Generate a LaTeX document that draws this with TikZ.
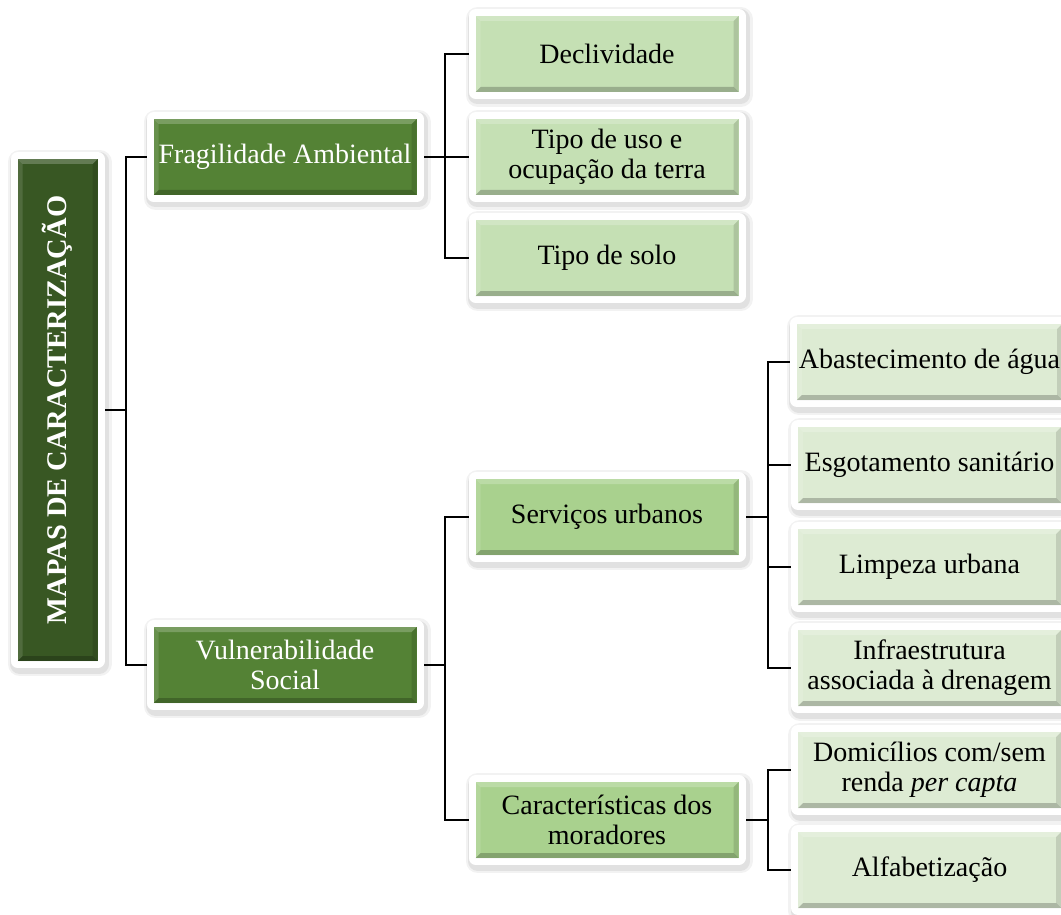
\documentclass[tikz,border=0pt]{standalone}
\usepackage{fontspec}
\setmainfont{Liberation Serif}
\usepackage{graphicx}
\usetikzlibrary{backgrounds}
\definecolor{cRoot}{HTML}{385723}
\definecolor{cLone}{HTML}{548235}
\definecolor{cLtwo}{HTML}{C5E0B4}
\definecolor{cLtwob}{HTML}{A9D18E}
\definecolor{cLthree}{HTML}{DDEBD3}
\tikzset{
  basebox/.style={
    minimum width=263pt, minimum height=76pt, inner sep=2pt, align=center,
    font=\fontsize{28}{30}\selectfont,
    preaction={draw=black, draw opacity=0.05, line width=24pt, line join=round,
      transform canvas={xshift=2pt,yshift=-3pt}},
    preaction={draw=black, draw opacity=0.07, line width=19pt, line join=round,
      transform canvas={xshift=2pt,yshift=-3pt}},
    preaction={draw=white, line width=14pt, line join=round},
    path picture={
      \coordinate (pa) at (path picture bounding box.south west);
      \coordinate (pb) at (path picture bounding box.north east);
      \fill[black,opacity=.22] (pa) -- (pa -| pb) -- ([shift={(-5pt,5pt)}]pa -| pb) -- ([shift={(5pt,5pt)}]pa) -- cycle;
      \fill[black,opacity=.12] (pa -| pb) -- (pb) -- ([shift={(-5pt,-5pt)}]pb) -- ([shift={(-5pt,5pt)}]pa -| pb) -- cycle;
      \fill[white,opacity=.22] (pb) -- (pb -| pa) -- ([shift={(5pt,-5pt)}]pb -| pa) -- ([shift={(-5pt,-5pt)}]pb) -- cycle;
      \fill[white,opacity=.12] (pb -| pa) -- (pa) -- ([shift={(5pt,5pt)}]pa) -- ([shift={(5pt,-5pt)}]pb -| pa) -- cycle;
    }
  },
  rootbox/.style={basebox, fill=cRoot, text=white, minimum width=80pt, minimum height=502pt,
    font=\fontsize{28.5}{30}\selectfont\bfseries},
  lvone/.style={basebox, fill=cLone, text=white},
  lvtwo/.style={basebox, fill=cLtwo},
  lvtwob/.style={basebox, fill=cLtwob},
  lvthree/.style={basebox, fill=cLthree},
  conn/.style={draw=black, line width=2.2pt}
}
\begin{document}
\begin{tikzpicture}[x=1pt,y=-1pt]
\useasboundingbox (0,0) rectangle (1061,915);
\node[rootbox] (root) at (57.5,410) {\rotatebox{90}{MAPAS DE CARACTERIZAÇÃO}};
\node[lvone] (frag) at (285,157) {Fragilidade Ambiental};
\node[lvone] (vuln) at (285,665) {Vulnerabilidade\\Social};
\node[lvtwo] (decl) at (607,54) {Declividade};
\node[lvtwo] (uso) at (607,157) {Tipo de uso e\\ocupação da terra};
\node[lvtwo] (solo) at (607,258) {Tipo de solo};
\node[lvtwob] (serv) at (607,517) {Serviços urbanos};
\node[lvtwob] (carac) at (607,820) {Características dos\\moradores};
\node[lvthree] (abas) at (929.5,362) {Abastecimento de água};
\node[lvthree] (esgo) at (929.5,465) {Esgotamento sanitário};
\node[lvthree] (limp) at (929.5,567) {Limpeza urbana};
\node[lvthree] (infra) at (929.5,668) {Infraestrutura\\associada à drenagem};
\node[lvthree] (dom) at (929.5,770) {Domicílios com/sem\\renda \textit{per capta}};
\node[lvthree] (alf) at (929.5,870) {Alfabetização};
\begin{scope}[on background layer]
\draw[conn] (root.east) -- ++(28,0) |- (frag.west);
\draw[conn] (root.east) ++(28,0) |- (vuln.west);
\draw[conn] (frag.east) -- ++(28,0) |- (decl.west);
\draw[conn] (frag.east) ++(28,0) -- (uso.west);
\draw[conn] (frag.east) ++(28,0) |- (solo.west);
\draw[conn] (vuln.east) -- ++(28,0) |- (serv.west);
\draw[conn] (vuln.east) ++(28,0) |- (carac.west);
\draw[conn] (serv.east) -- ++(29.5,0) |- (abas.west);
\draw[conn] (serv.east) ++(29.5,0) |- (esgo.west);
\draw[conn] (serv.east) ++(29.5,0) |- (limp.west);
\draw[conn] (serv.east) ++(29.5,0) |- (infra.west);
\draw[conn] (carac.east) -- ++(29.5,0) |- (dom.west);
\draw[conn] (carac.east) ++(29.5,0) |- (alf.west);
\end{scope}
\end{tikzpicture}
\end{document}
